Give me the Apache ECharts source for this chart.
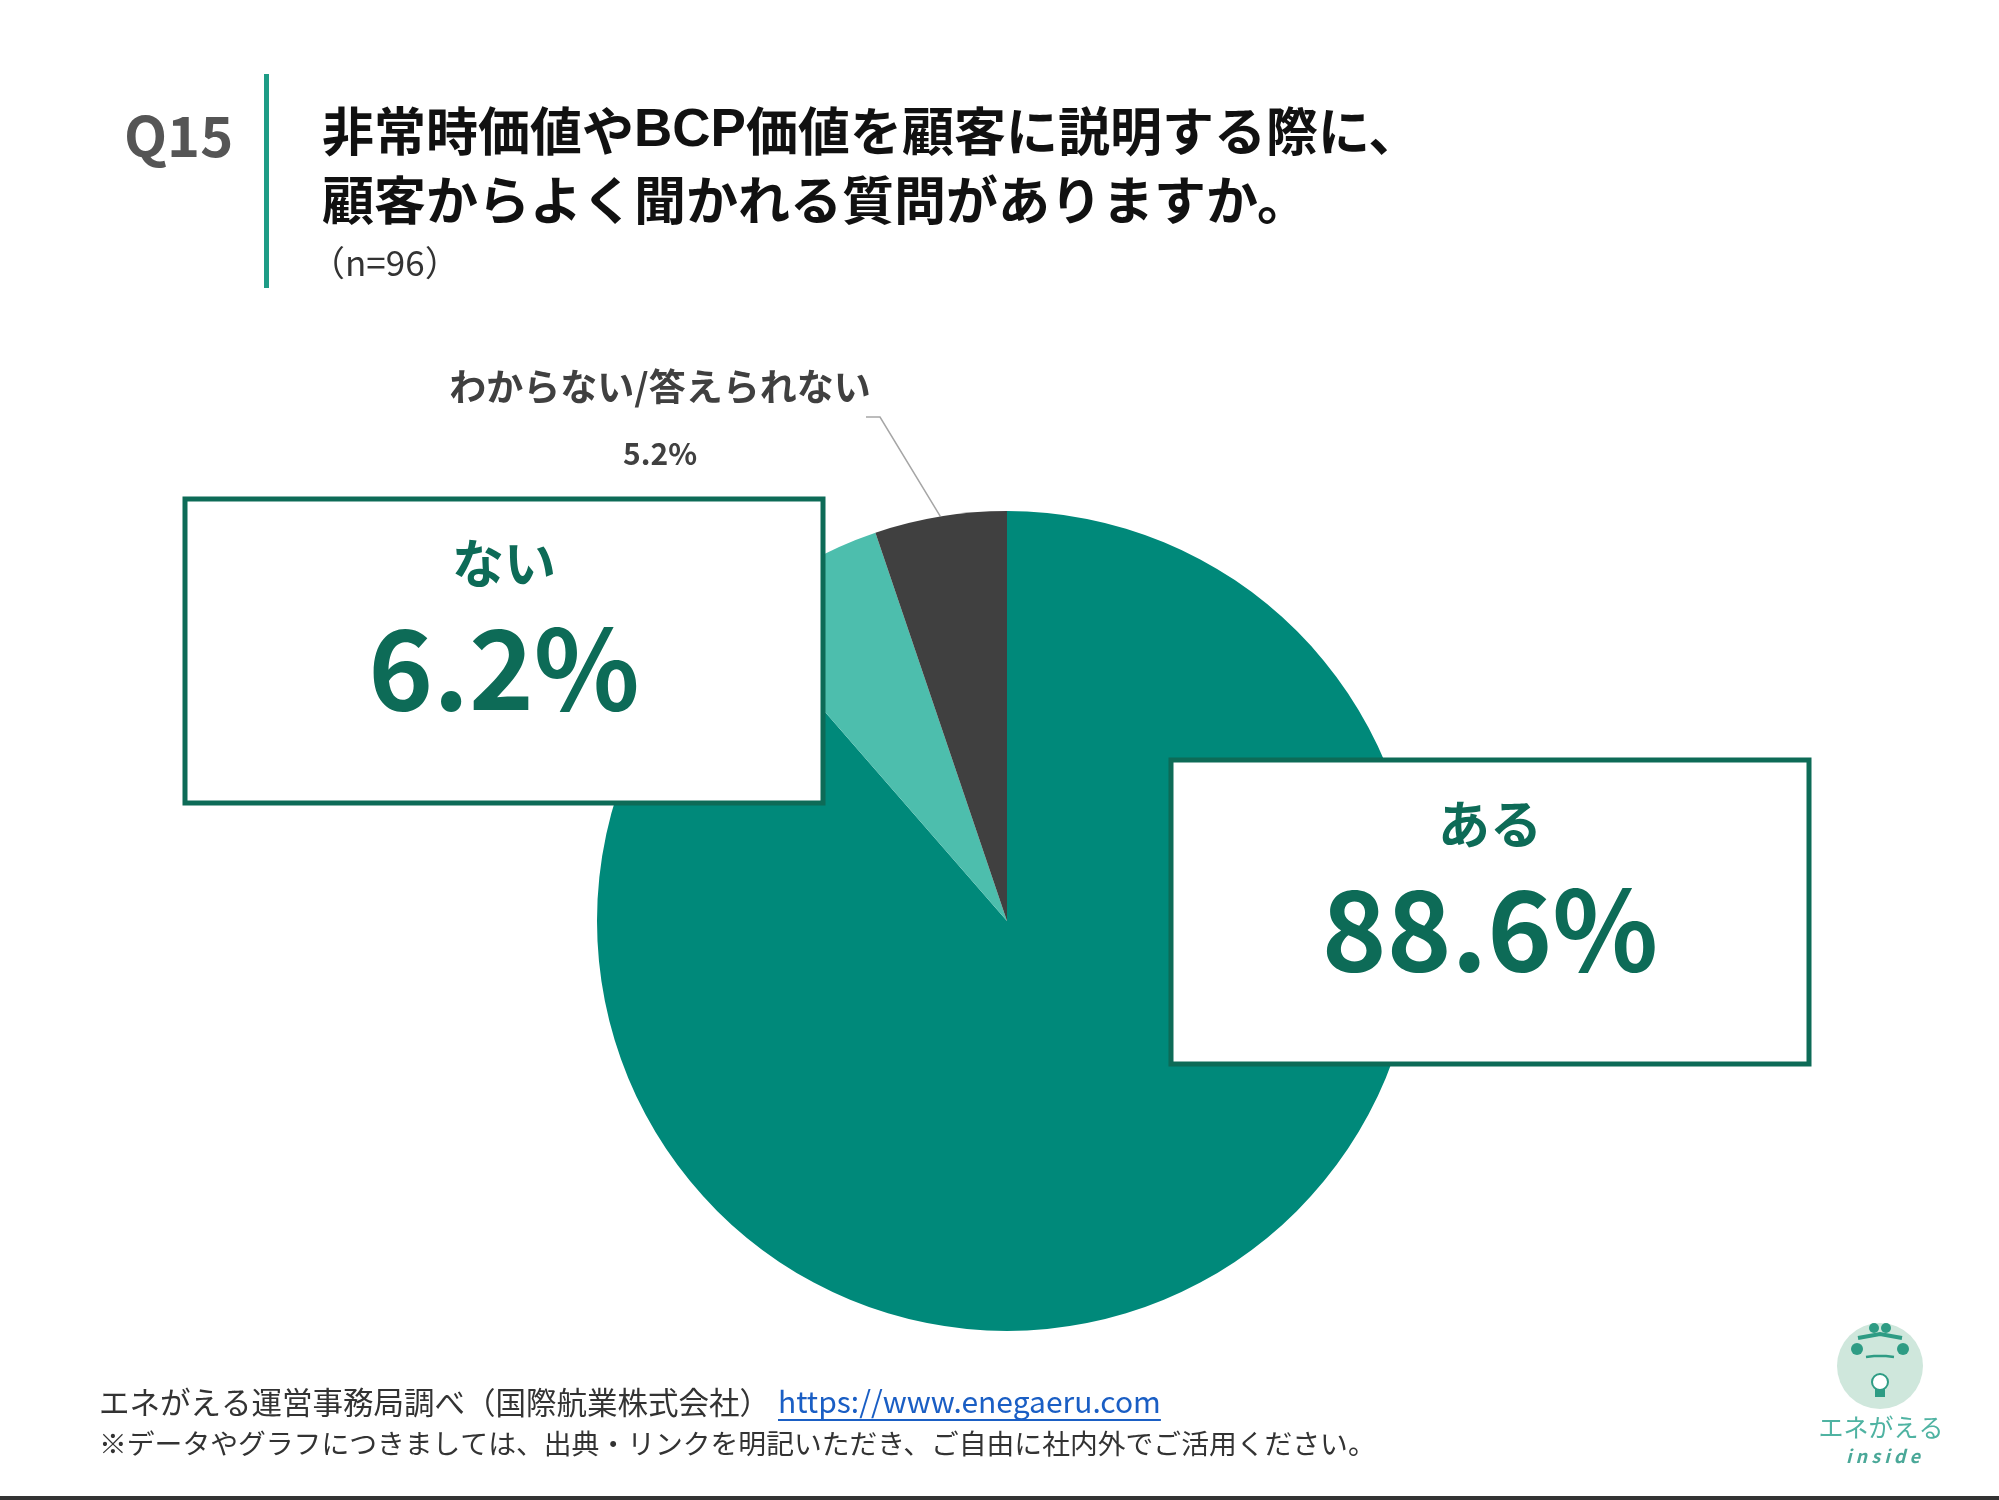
<!DOCTYPE html>
<html><head><meta charset="utf-8">
<script src="https://cdn.jsdelivr.net/npm/echarts@6/dist/echarts.min.js"></script>
<style>html,body{margin:0;padding:0;background:#fff}#c{width:1999px;height:1500px}</style>
</head><body><div id="c"></div>
<script>
// ---- data ----
const categories = ['ある', 'ない', 'わからない/答えられない'];
const values = [88.6, 6.2, 5.2];
const questionNo = 'Q15';
const titleParts = ['非常時価値や', 'BCP', '価値を顧客に説明する際に、'];
const titleLine2 = '顧客からよく聞かれる質問がありますか。';
const sampleNote = '（n=96）';
const sourceText = 'エネがえる運営事務局調べ（国際航業株式会社）';
const sourceUrl = 'https://www.enegaeru.com';
const noteText = '※データやグラフにつきましては、出典・リンクを明記いただき、ご自由に社内外でご活用ください。';
const logoName = 'エネがえる';
const logoSub = 'inside';

// ---- styles / layout ----
const FONT = '"Noto Sans CJK JP", "Noto Sans", sans-serif';
const LATIN = '"Liberation Sans", Arial, sans-serif';
const sliceColors = ['#00897A', '#4DBEAD', '#404040'];
const boxGreen = '#0D6B57';
const pieCenter = [1007, 921];
const pieRadius = 410;
const labelPlace = [{x: 1490, y: 912}, {x: 504, y: 651}, {x: 660, y: 420}];

function measure(text, font) {
  const c = document.createElement('canvas').getContext('2d');
  c.font = font; return c.measureText(text).width;
}

const boxLabel = {
  show: true,
  formatter: p => `{n|${p.name}}\n{v|${p.value}%}`,
  backgroundColor: '#fff',
  borderColor: boxGreen,
  borderWidth: 5,
  width: 633,
  padding: [27, 0, 62, 0],
  align: 'center',
  rich: {
    n: {fontFamily: FONT, fontSize: 52, fontWeight: 'bold', color: boxGreen, lineHeight: 70, align: 'center'},
    v: {fontFamily: FONT, fontSize: 110, fontWeight: 'bold', color: boxGreen, lineHeight: 140, align: 'center'}
  }
};

const data = categories.map((name, i) => {
  const item = {name, value: values[i], itemStyle: {color: sliceColors[i]}};
  if (i < 2) {
    item.label = boxLabel;
    item.labelLine = {show: false};
  } else {
    item.label = {
      show: true,
      formatter: p => `{n|${p.name}}\n{v|${p.value}%}`,
      rich: {
        n: {fontFamily: FONT, fontSize: 37, fontWeight: 'bold', color: '#404040', lineHeight: 67, align: 'center'},
        v: {fontFamily: FONT, fontSize: 30, fontWeight: 'bold', color: '#404040', lineHeight: 67, align: 'center'}
      }
    };
    item.labelLine = {show: true, lineStyle: {color: '#A6A6A6', width: 1.5}};
  }
  return item;
});

const total = values.reduce((a, b) => a + b, 0);
function edgePoint(idx) {
  let before = 0;
  for (let i = 0; i < idx; i++) before += values[i];
  const theta = (before + values[idx] / 2) / total * 2 * Math.PI;
  return [pieCenter[0] + pieRadius * Math.sin(theta), pieCenter[1] - pieRadius * Math.cos(theta)];
}

const linkFont = '30px ' + FONT;
const linkX = 778;
const linkW = measure(sourceUrl, linkFont);

const chart = echarts.init(document.getElementById('c'), null, {renderer: 'canvas'});
chart.setOption({
  backgroundColor: '#fff',
  animation: false,
  series: [{
    type: 'pie',
    center: pieCenter,
    radius: pieRadius,
    startAngle: 90,
    clockwise: true,
    avoidLabelOverlap: false,
    emphasis: {disabled: true},
    label: {position: 'outside'},
    labelLine: {length: 40, length2: 20},
    data: data,
    labelLayout: function (p) {
      const pl = labelPlace[p.dataIndex];
      const res = {x: pl.x, y: pl.y, align: 'center', verticalAlign: 'middle'};
      if (p.dataIndex === 2) {
        const e = edgePoint(2);
        res.labelLinePoints = [e, [pl.x + 220, pl.y - 3], [pl.x + 206, pl.y - 3]];
      }
      return res;
    }
  }],
  graphic: [
    {type: 'text', x: 124, y: 136, style: {text: questionNo, font: 'bold 56px ' + FONT, fill: '#555555', textAlign: 'left', textVerticalAlign: 'middle', align: 'left', verticalAlign: 'middle'}},
    {type: 'rect', shape: {x: 264, y: 74, width: 5, height: 214}, style: {fill: '#1E9C86'}},
    {type: 'text', x: 322, y: 131, style: {
      text: `{a|${titleParts[0]}}{b|${titleParts[1]}}{a|${titleParts[2]}}`,
      rich: {
        a: {fontFamily: FONT, fontSize: 52, fontWeight: 'bold', fill: '#111111', color: '#111111'},
        b: {fontFamily: LATIN, fontSize: 53, fontWeight: 'bold', fill: '#111111', color: '#111111'}
      },
      textAlign: 'left', textVerticalAlign: 'middle', align: 'left', verticalAlign: 'middle'}},
    {type: 'text', x: 322, y: 200, style: {text: titleLine2, font: 'bold 52px ' + FONT, fill: '#111111', textAlign: 'left', textVerticalAlign: 'middle', align: 'left', verticalAlign: 'middle'}},
    {type: 'text', x: 310, y: 263, style: {text: sampleNote, font: '35px ' + FONT, fill: '#333333', textAlign: 'left', textVerticalAlign: 'middle', align: 'left', verticalAlign: 'middle'}},
    {type: 'text', x: 99, y: 1402, style: {text: sourceText, font: '30.5px ' + FONT, fill: '#333333', textAlign: 'left', textVerticalAlign: 'middle', align: 'left', verticalAlign: 'middle'}},
    {type: 'text', x: linkX, y: 1402, style: {text: sourceUrl, font: linkFont, fill: '#1A5EC4', textAlign: 'left', textVerticalAlign: 'middle', align: 'left', verticalAlign: 'middle'}},
    {type: 'line', shape: {x1: linkX, y1: 1420, x2: linkX + linkW, y2: 1420}, style: {stroke: '#1A5EC4', lineWidth: 2}},
    {type: 'text', x: 99, y: 1443, style: {text: noteText, font: '27.8px ' + FONT, fill: '#333333', textAlign: 'left', textVerticalAlign: 'middle', align: 'left', verticalAlign: 'middle'}},
    // logo
    {type: 'circle', shape: {cx: 1880, cy: 1366, r: 43}, style: {fill: '#CFE7DC'}},
    {type: 'circle', shape: {cx: 1874, cy: 1328, r: 5}, style: {fill: '#2E9C84'}},
    {type: 'circle', shape: {cx: 1886, cy: 1328, r: 5}, style: {fill: '#2E9C84'}},
    {type: 'polyline', shape: {points: [[1858, 1338], [1880, 1334], [1902, 1338]]}, style: {stroke: '#2E9C84', lineWidth: 4, fill: 'none'}},
    {type: 'circle', shape: {cx: 1857, cy: 1349, r: 6}, style: {fill: '#2E9C84'}},
    {type: 'circle', shape: {cx: 1903, cy: 1349, r: 6}, style: {fill: '#2E9C84'}},
    {type: 'polyline', shape: {points: [[1866, 1357], [1874, 1356], [1886, 1356], [1894, 1357]]}, style: {stroke: '#2E9C84', lineWidth: 2.5, fill: 'none'}},
    {type: 'circle', shape: {cx: 1880, cy: 1382, r: 8}, style: {fill: '#ffffff', stroke: '#2E9C84', lineWidth: 2}},
    {type: 'rect', shape: {x: 1875, y: 1389, width: 10, height: 8}, style: {fill: '#2E9C84'}},
    {type: 'text', x: 1881, y: 1427, style: {text: logoName, font: '25px ' + FONT, fill: '#4FB3A2', textAlign: 'center', textVerticalAlign: 'middle', align: 'center', verticalAlign: 'middle'}},
    {type: 'text', x: 1883, y: 1456, style: {text: logoSub.split('').join(' '), font: 'italic bold 18px ' + FONT, fill: '#4AA898', textAlign: 'center', textVerticalAlign: 'middle', align: 'center', verticalAlign: 'middle'}},
    {type: 'rect', shape: {x: 0, y: 1496, width: 1999, height: 4}, style: {fill: '#333333'}}
  ]
});
</script>
</body></html>
